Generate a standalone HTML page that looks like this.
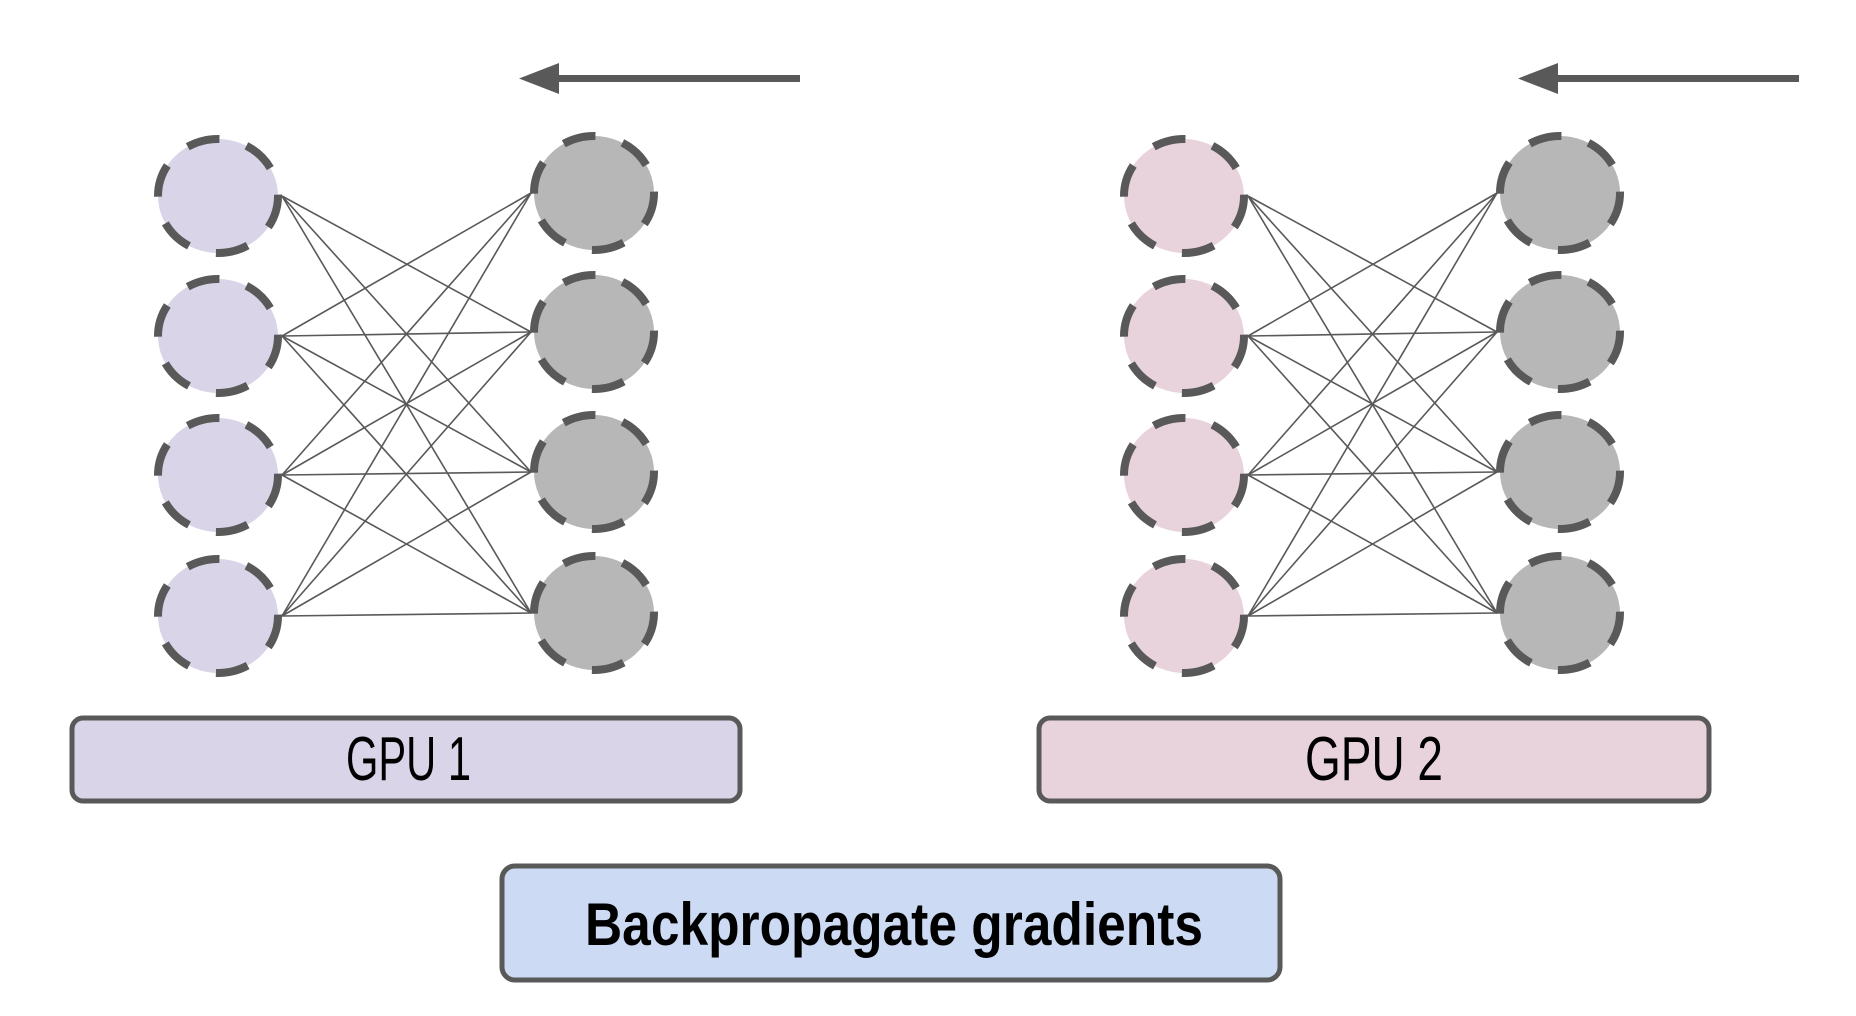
<!DOCTYPE html>
<html><head><meta charset="utf-8"><style>html,body{margin:0;padding:0;background:#fff;}svg{display:block}</style></head>
<body>
<svg width="1856" height="1016" viewBox="0 0 1856 1016" xmlns="http://www.w3.org/2000/svg">
<defs>
<g id="net">
  <g stroke="#595959" stroke-width="1.6" fill="none">
    <line x1="282" y1="196" x2="531" y2="332"/><line x1="282" y1="196" x2="531" y2="472"/><line x1="282" y1="196" x2="531" y2="613"/>
    <line x1="282" y1="336" x2="531" y2="193"/><line x1="282" y1="336" x2="531" y2="332"/><line x1="282" y1="336" x2="531" y2="472"/><line x1="282" y1="336" x2="531" y2="613"/>
    <line x1="282" y1="475" x2="531" y2="193"/><line x1="282" y1="475" x2="531" y2="332"/><line x1="282" y1="475" x2="531" y2="472"/><line x1="282" y1="475" x2="531" y2="613"/>
    <line x1="282" y1="616" x2="531" y2="193"/><line x1="282" y1="616" x2="531" y2="332"/><line x1="282" y1="616" x2="531" y2="472"/><line x1="282" y1="616" x2="531" y2="613"/>
  </g>
  <g stroke="#595959" stroke-width="8" stroke-dasharray="33 28">
    <ellipse cx="594" cy="193" rx="60" ry="57" fill="#b7b7b7"/>
    <ellipse cx="594" cy="332" rx="60" ry="57" fill="#b7b7b7"/>
    <ellipse cx="594" cy="472" rx="60" ry="57" fill="#b7b7b7"/>
    <ellipse cx="594" cy="613" rx="60" ry="57" fill="#b7b7b7"/>
  </g>
</g>
<g id="left">
  <ellipse cx="218" cy="196" rx="60" ry="57"/>
  <ellipse cx="218" cy="336" rx="60" ry="57"/>
  <ellipse cx="218" cy="475" rx="60" ry="57"/>
  <ellipse cx="218" cy="616" rx="60" ry="57"/>
</g>
</defs>

<g fill="#595959">
  <rect x="555" y="75" width="245" height="7"/>
  <polygon points="519,78.5 559,63 559,94"/>
  <rect x="1554" y="75" width="245" height="7"/>
  <polygon points="1518,78.5 1558,63 1558,94"/>
</g>

<use href="#net"/>
<g stroke="#595959" stroke-width="8" stroke-dasharray="33 28" fill="#d9d4e8"><use href="#left"/></g>

<g transform="translate(966,0)">
  <use href="#net"/>
  <g stroke="#595959" stroke-width="8" stroke-dasharray="33 28" fill="#e8d3dc"><use href="#left"/></g>
</g>

<rect x="72" y="718" width="668" height="83" rx="11" fill="#d9d4e8" stroke="#595959" stroke-width="5"/>
<rect x="1039" y="718" width="670" height="83" rx="11" fill="#e8d3dc" stroke="#595959" stroke-width="5"/>
<rect x="502" y="866" width="778" height="114" rx="13" fill="#ccdaf4" stroke="#595959" stroke-width="5"/>

<g font-family="Liberation Sans, sans-serif" fill="#000">
  <text x="346" y="780" font-size="62" textLength="125" lengthAdjust="spacingAndGlyphs">GPU 1</text>
  <text x="1305" y="780" font-size="62" textLength="138" lengthAdjust="spacingAndGlyphs">GPU 2</text>
  <text x="585" y="945" font-size="60" font-weight="bold" textLength="618" lengthAdjust="spacingAndGlyphs">Backpropagate gradients</text>
</g>
</svg>
</body></html>
